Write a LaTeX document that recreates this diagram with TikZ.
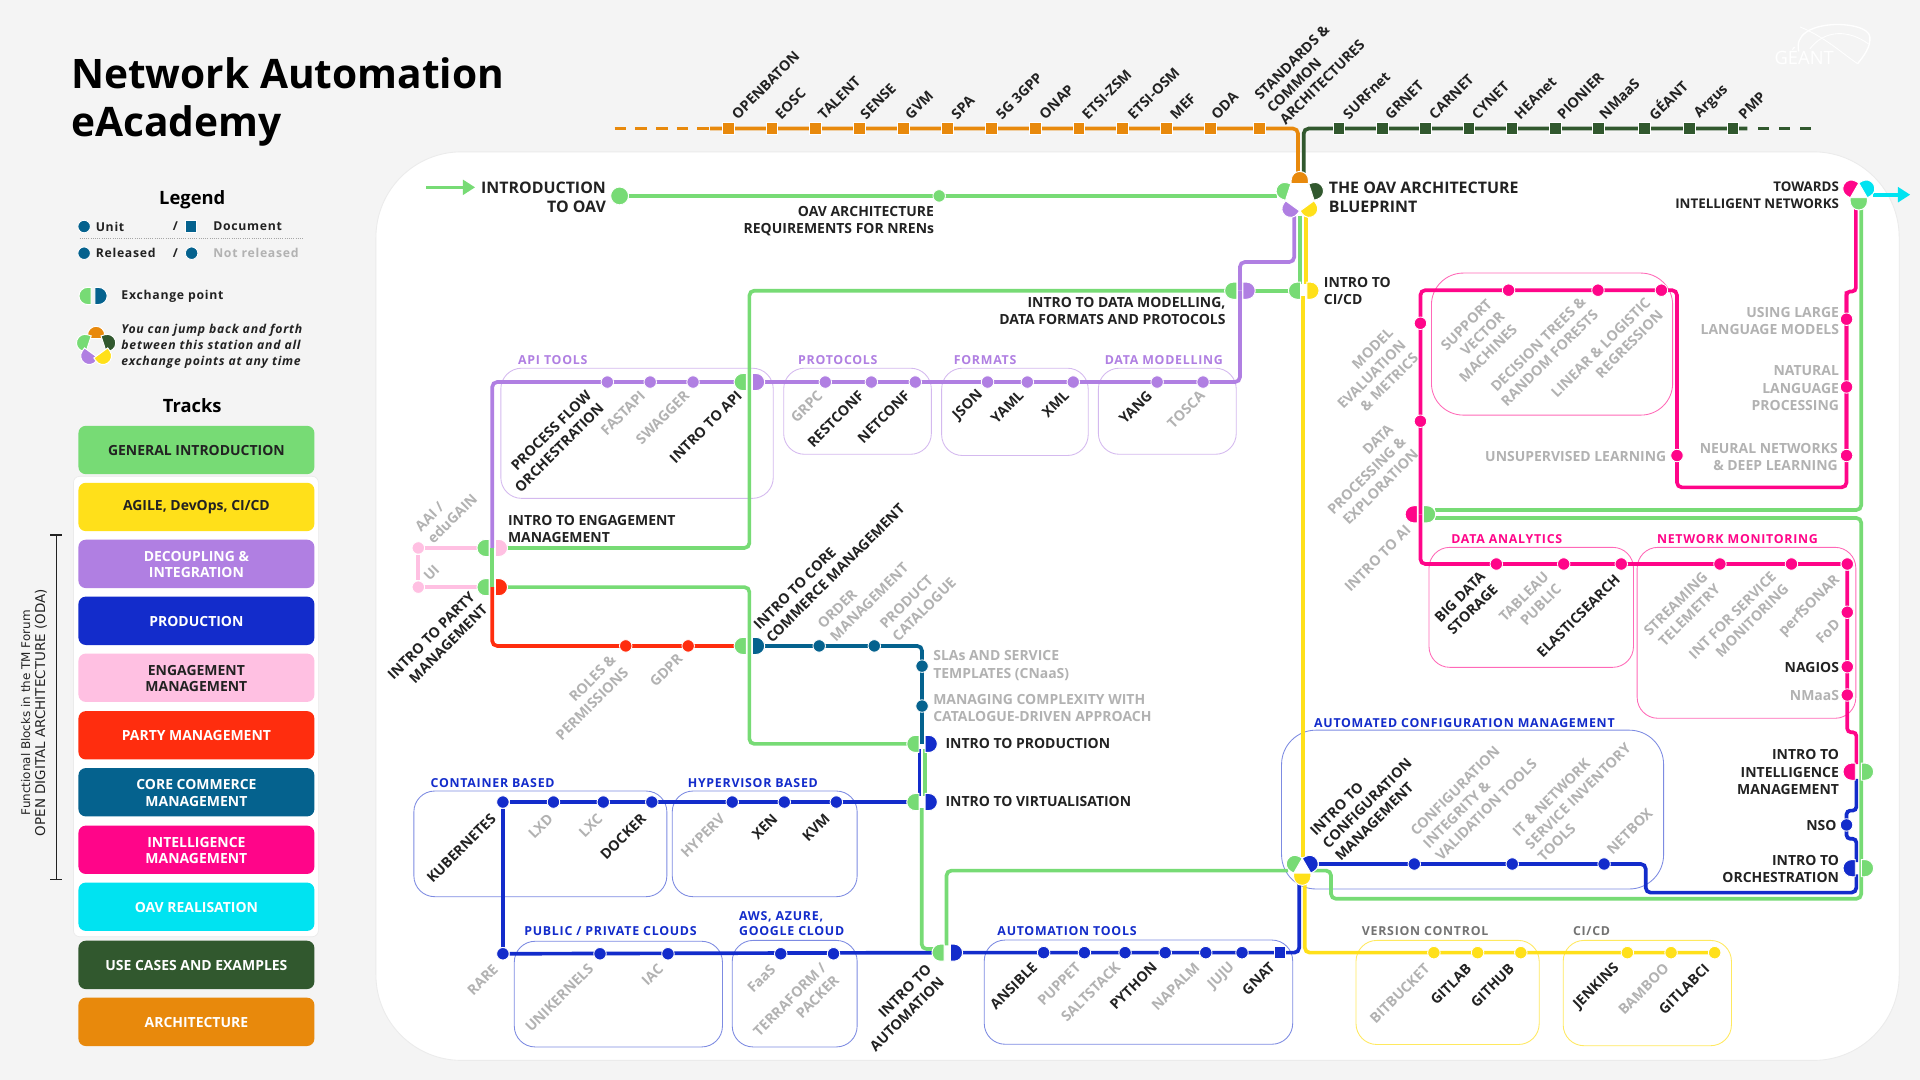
\documentclass[tikz,border=0pt]{standalone}
\usepackage{fontspec}
\usetikzlibrary{arrows.meta}
\setmainfont{Open Sans}
\newcommand{\semi}{\bfseries}
\newfontfamily\spcf{Open Sans}[LetterSpace=6]
\newcommand{\spc}{\spcf\bfseries}
\newfontfamily\dv{DejaVu Sans}
\definecolor{cBg}{HTML}{F4F4F4}
\definecolor{cGreen}{HTML}{77DB75}
\definecolor{cYellow}{HTML}{FFE01A}
\definecolor{cPurple}{HTML}{B07FE2}
\definecolor{cBlue}{HTML}{132CCB}
\definecolor{cPink}{HTML}{FFC0E2}
\definecolor{cRed}{HTML}{FF2D0E}
\definecolor{cTeal}{HTML}{05628E}
\definecolor{cMag}{HTML}{FF0589}
\definecolor{cCyan}{HTML}{00E3F1}
\definecolor{cDark}{HTML}{31582E}
\definecolor{cOrange}{HTML}{E8890C}
\definecolor{cTxt}{HTML}{222222}
\definecolor{cGry}{HTML}{B2B2B2}
\pgfdeclarelayer{back}
\pgfdeclarelayer{lines}
\pgfsetlayers{back,lines,main}
\newcount\labc
\newcommand{\lb}[4]{\global\advance\labc by 1 \node[#1] (lab\the\labc) at (#2,#3) {#4};}
\newcommand{\sta}[4]{\node[st=#2] (#1) at (#3,#4) {};}
\newcommand{\squ}[4]{\node[sq=#2] (#1) at (#3,#4) {};}
\newcommand{\Dsh}[5]{\begin{scope}[shift={(#1,#2)},rotate=#3,xshift=#4]
\path[fill=#5,draw=white,line width=.8] (0,7)--(3,7) .. controls (6.9,7) and (10,3.9) .. (10,0) .. controls (10,-3.9) and (6.9,-7) .. (3,-7) -- (0,-7) -- cycle;
\end{scope}}
\newcommand{\xp}[5]{\coordinate (#1) at (#2,#3); \coordinate (#1L) at (#2-10,#3); \coordinate (#1R) at (#2+10,#3);
\Dsh{#2}{#3}{180}{2.5pt}{#4}\Dsh{#2}{#3}{0}{2.5pt}{#5}}
\newcommand{\track}[5]{\node[trkbox=#3] (#1) at (160.4,#2) {}; \node[trktxt=#4] (#1t) at (160.4,#2+.5) {#5};}
\tikzset{
 st/.style={circle,fill=#1,draw=white,line width=.7,minimum size=10.2,inner sep=0},
 sq/.style={rectangle,fill=#1,draw=white,line width=.7,minimum size=9.6,inner sep=0},
 metro/.style={line width=3,draw=#1,rounded corners=4},
 box/.style={draw=#1,line width=.7,rounded corners=17},
 txt/.style={inner sep=0,font=\fontsize{11.4}{14}\selectfont\semi,text=cTxt},
 dk/.style={txt},
 gy/.style={txt,text=cGry},
 hl/.style={anchor=west,align=left,yshift=-.5pt},
 hr/.style={anchor=east,align=right,yshift=-.5pt},
 rb/.style={rotate=45,anchor=east,align=right,font=\fontsize{11.6}{14.5}\selectfont\semi},
 ra/.style={rotate=45,anchor=west,align=left,font=\fontsize{11.6}{14.5}\selectfont\semi},
 grp/.style={inner sep=0,anchor=west,align=left,yshift=-.3pt,text=#1,font=\fontsize{10.1}{12}\selectfont\spc},
 trkbox/.style={rectangle,rounded corners=6,minimum width=192.7,minimum height=39.5,inner sep=0,fill=#1},
 trktxt/.style={inner sep=0,text=#1,align=center,font=\fontsize{11.4}{13.6}\selectfont\semi},
 leg/.style={inner sep=0,anchor=west,align=left,text=cTxt,font=\fontsize{10}{13}\selectfont\spc},
}
\begin{document}
\begin{tikzpicture}[x=1pt,y=-1pt]
\useasboundingbox (0,0) rectangle (1568,882);
\begin{pgfonlayer}{back}
\fill[cBg] (0,0) rectangle (1568,882);
\draw[fill=white,draw=black!8,line width=.7,rounded corners=70] (307,124) rectangle (1551,866);
\draw[fill=white,draw=black!8,line width=.6,rounded corners=5] (60,389) rectangle (260,765);
% boxes
\draw[box=cPurple!55!white] (409,300.7) rectangle (631.5,407);
\draw[box=cPurple!55!white] (640,300.7) rectangle (760.6,371);
\draw[box=cPurple!55!white] (769,300.7) rectangle (888.7,372);
\draw[box=cPurple!55!white] (897,300.7) rectangle (1009.6,371);
\draw[box=cMag!60!white,rounded corners=26] (1169,223) rectangle (1366,339);
\draw[box=cMag!60!white] (1167,447) rectangle (1334,545);
\draw[box=cMag!60!white] (1337,447) rectangle (1515.6,586.6);
\draw[box=cBlue!55!white,rounded corners=28] (1046.6,596.3) rectangle (1358.6,726);
\draw[box=cBlue!55!white] (338,646) rectangle (544.6,732.3);
\draw[box=cBlue!55!white] (549,646) rectangle (700,732.3);
\draw[box=cBlue!55!white] (420,768.7) rectangle (590,855);
\draw[box=cBlue!55!white] (598,768) rectangle (700,855);
\draw[box=cBlue!55!white] (803.8,767.7) rectangle (1055.7,852.8);
\draw[box=cYellow!70!white] (1107.4,768) rectangle (1257,853);
\draw[box=cYellow!70!white] (1276.6,768) rectangle (1414,854);
\end{pgfonlayer}

% ===== title and legend =====
\node[inner sep=0,anchor=west,align=left,text=black,font=\fontsize{33.2}{39}\selectfont\bfseries] (title) at (58,83) {Network Automation\\eAcademy};
\node[inner sep=0,text=black,font=\fontsize{15}{18}\selectfont\bfseries] (legend) at (157,163.5) {Legend};
\node[inner sep=0,text=black,font=\fontsize{15}{18}\selectfont\bfseries] (tracks) at (157,331.5) {Tracks};
\sta{lgU}{cTeal}{68.7}{185}
\lb{leg}{78}{185}{Unit}
\lb{leg}{141}{185}{/}
\squ{lgD}{cTeal}{156}{185}
\lb{leg}{174}{185}{Document}
\coordinate (dotA) at (65,195); \coordinate (dotB) at (247,195);
\draw[black!35,line width=.8,densely dotted] (dotA) -- (dotB);
\sta{lgR}{cTeal}{68.7}{206.8}
\lb{leg}{78}{206.8}{Released}
\lb{leg}{141}{206.8}{/}
\sta{lgN}{cTeal}{156.5}{206.8}
\lb{leg,text=cGry}{174}{206.8}{Not released}
\Dsh{76}{241.7}{180}{1.5pt}{cGreen}\Dsh{76}{241.7}{0}{1.5pt}{cTeal}
\lb{leg}{99}{241.7}{Exchange point}
\Dsh{78.5}{283}{90}{6.5pt}{cOrange}\Dsh{78.5}{283}{162}{6.5pt}{cGreen}\Dsh{78.5}{283}{18}{6.5pt}{cDark}\Dsh{78.5}{283}{234}{6.5pt}{cPurple}\Dsh{78.5}{283}{306}{6.5pt}{cYellow}
\lb{leg,font=\fontsize{10}{13}\selectfont\spc\itshape}{99}{283}{You can jump back and forth\\between this station and all\\exchange points at any time}

\track{t1}{367.5}{cGreen}{cTxt}{GENERAL INTRODUCTION}
\track{t2}{414}{cYellow}{cTxt}{AGILE, DevOps, CI/CD}
\track{t3}{460.5}{cPurple}{white}{DECOUPLING \&\\INTEGRATION}
\track{t4}{507}{cBlue}{white}{PRODUCTION}
\track{t5}{553.5}{cPink}{cTxt}{ENGAGEMENT\\MANAGEMENT}
\track{t6}{600.5}{cRed}{white}{PARTY MANAGEMENT}
\track{t7}{647}{cTeal}{white}{CORE COMMERCE\\MANAGEMENT}
\track{t8}{694}{cMag}{white}{INTELLIGENCE\\MANAGEMENT}
\track{t9}{740.5}{cCyan}{white}{OAV REALISATION}
\track{t10}{788}{cDark}{white}{USE CASES AND EXAMPLES}
\track{t11}{834.5}{cOrange}{white}{ARCHITECTURE}
\coordinate (brA) at (46,437); \coordinate (brB) at (46,718);
\coordinate (brA1) at (41,437); \coordinate (brA2) at (51,437); \coordinate (brB1) at (41,718); \coordinate (brB2) at (51,718);
\draw[cTxt,line width=1] (brA) -- (brB) (brA1) -- (brA2) (brB1) -- (brB2);
\node[inner sep=0,rotate=90,text=cTxt,font=\fontsize{9.75}{12}\selectfont\dv] (oda1) at (21,582) {Functional Blocks in the TM Forum};
\node[inner sep=0,rotate=90,text=cTxt,font=\fontsize{11}{12}\selectfont\dv] (oda2) at (33.5,582) {OPEN DIGITAL ARCHITECTURE (ODA)};
% GEANT logo
\node[inner sep=0,anchor=west,text=white,font=\fontsize{15}{18}\selectfont] (geant) at (1449,46) {GÉANT};
\coordinate (g1) at (1469,42); \coordinate (g2) at (1526,36); \coordinate (g3) at (1470,22); \coordinate (g4) at (1517,52);
\draw[white,line width=1.1] (g1) .. controls (1462,14) and (1526,16) .. (1527,30) .. controls (1528,38) and (1522,46) .. (g4);
\draw[white,line width=.7] (g3) .. controls (1490,30) and (1505,44) .. (g4);
\draw[white,line width=.7] (1478,40) .. controls (1490,24) and (1510,24) .. (g2);

% ===== orange line stations =====
\foreach \i/\x in {1/594.6,2/630.4,3/666.2,4/702,5/737.9,6/773.7,7/809.5,8/845.3,9/881.1,10/916.9,11/952.7,12/988.5,13/1028.8}{\squ{o\i}{cOrange}{\x}{105}}
\foreach \i/\x in {1/1093.4,2/1128.8,3/1164.2,4/1199.7,5/1234.7,6/1270.1,7/1305.2,8/1343,9/1379.9,10/1415.3}{\squ{k\i}{cDark}{\x}{105}}
\foreach \x/\t in {599.5/OPENBATON,635/EOSC,670/TALENT,704.5/SENSE,741/GVM,778.7/SPA,815.4/5G 3GPP,850.7/ONAP,885.6/ETSI-ZSM,923/ETSI-OSM,957.5/MEF,991/ODA,1098.7/SURFnet,1133/GRNET,1169/CARNET,1203.8/CYNET,1238.6/HEAnet,1273.6/PIONIER,1308/NMaaS,1348/GÉANT,1386/Argus,1421.7/PMP}{\lb{dk,ra}{\x}{95.3}{\t}}
\lb{dk,ra}{1036.7}{89.8}{STANDARDS \&\\COMMON\\ARCHITECTURES}

% ===== intro =====
\node[circle,fill=cGreen,draw=white,line width=.7,minimum size=14.5,inner sep=0] (intro) at (506,160) {};
\sta{req}{cGreen}{767}{160}
\lb{dk,hr,font=\fontsize{13}{15.5}\selectfont\semi}{495}{160.5}{INTRODUCTION\\TO OAV}
\lb{dk,hr}{763}{180}{OAV ARCHITECTURE\\REQUIREMENTS FOR NRENs}
\lb{dk,hl,font=\fontsize{13}{15.5}\selectfont\semi}{1085}{161}{THE OAV ARCHITECTURE\\BLUEPRINT}
\coordinate (hub) at (1061.5,160);
\Dsh{1061.5}{160}{90}{10pt}{cOrange}\Dsh{1061.5}{160}{162}{10pt}{cGreen}\Dsh{1061.5}{160}{18}{10pt}{cDark}\Dsh{1061.5}{160}{234}{10pt}{cPurple}\Dsh{1061.5}{160}{306}{10pt}{cYellow}
\coordinate (hubL) at (1043,160);

% ===== exchange points =====
\xp{dm}{1012.6}{237.4}{cGreen}{cPurple}
\xp{ci}{1064.7}{237.4}{cGreen}{cYellow}
\xp{api}{612}{312}{cGreen}{cPurple}
\xp{eng}{402}{447.5}{cGreen}{cPink}
\xp{prt}{402}{479.5}{cGreen}{cRed}
\xp{cor}{612}{527.5}{cGreen}{cTeal}
\xp{pro}{753}{607.5}{cGreen}{cBlue}
\xp{vir}{753}{655}{cGreen}{cBlue}
\xp{aut}{773.6}{778}{cGreen}{cBlue}
\xp{ai}{1160}{420}{cMag}{cGreen}
\xp{itl}{1517.6}{630.2}{cMag}{cGreen}
\xp{orc}{1517.6}{709}{cBlue}{cGreen}
\coordinate (hb2) at (1063.5,709);
\Dsh{1063.5}{709}{150}{4pt}{cGreen}\Dsh{1063.5}{709}{30}{4pt}{cBlue}\Dsh{1063.5}{709}{270}{4pt}{cYellow}
\coordinate (hb3) at (1518,157.5);
\Dsh{1518}{157.5}{150}{4pt}{cMag}\Dsh{1518}{157.5}{30}{4pt}{cCyan}\Dsh{1518}{157.5}{270}{4pt}{cGreen}

% ===== stations =====
\foreach \i/\x in {1/496,2/531,3/566,4/674,5/711.6,6/747.5,7/806.5,8/839,9/876.5,10/945,11/982.5}{\sta{p\i}{cPurple}{\x}{312}}
\sta{aai}{cPink}{341.6}{447.5}
\sta{ui}{cPink}{341.6}{479.5}
\sta{r1}{cRed}{511}{527.5}
\sta{r2}{cRed}{562}{527.5}
\sta{c1}{cTeal}{669}{527.5}
\sta{c2}{cTeal}{714}{527.5}
\sta{c3}{cTeal}{753}{544}
\sta{c4}{cTeal}{753}{576.6}
\foreach \i/\x in {1/410.7,2/452,3/492.7,4/532.3,5/598,6/640.5,7/683}{\sta{b\i}{cBlue}{\x}{655}}
\foreach \i/\x in {1/410.7,2/490,3/545.5,4/637.6,5/680.7}{\sta{d\i}{cBlue}{\x}{778.9}}
\foreach \i/\x in {1/852.3,2/885.6,3/918.8,4/951.6,5/984.7,6/1014.3}{\sta{a\i}{cBlue}{\x}{778}}
\squ{gnat}{cBlue}{1045.3}{778}
\foreach \i/\x in {1/1155,2/1235,3/1310}{\sta{f\i}{cBlue}{\x}{705.6}}
\sta{nso}{cBlue}{1508}{673.7}
\foreach \i/\x in {1/1171,2/1206.7,3/1242,4/1329,5/1364.7,6/1400.3}{\sta{y\i}{cYellow}{\x}{778}}
\foreach \i/\x in {1/1222,2/1277,3/1324,4/1404.6,5/1463,6/1508.6}{\sta{m\i}{cMag}{\x}{460.6}}
\foreach \i/\y in {1/500,2/544.5,3/567.6}{\sta{n\i}{cMag}{1508.6}{\y}}
\foreach \i/\y in {1/344,2/264}{\sta{q\i}{cMag}{1160}{\y}}
\foreach \i/\x in {1/1232,2/1305,3/1356.8}{\sta{s\i}{cMag}{\x}{237}}
\sta{uns}{cMag}{1369.5}{372}
\foreach \i/\y in {1/372,2/316,3/260.7}{\sta{w\i}{cMag}{1508}{\y}}

% ===== connectors =====
\begin{pgfonlayer}{lines}
\coordinate (oDash) at (502,105); \coordinate (oSol) at (580,105); \coordinate (oTurn) at (1060,105); \coordinate (oEnd) at (1060,142);
\draw[line width=3,draw=cOrange,dash pattern=on 9.4 off 7.5] (oDash) -- (oSol);
\draw[metro=cOrange] (oSol) -- (oTurn) -- (oEnd);
\coordinate (kEnd) at (1064.7,142); \coordinate (kTurn) at (1064.7,105); \coordinate (kSol) at (1427,105); \coordinate (kDash) at (1436,105); \coordinate (kLast) at (1480,105);
\draw[metro=cDark] (kEnd) -- (kTurn) -- (kSol);
\draw[line width=3,draw=cDark,dash pattern=on 9 off 8] (kDash) -- (kLast);
\draw[metro=cGreen] (intro) -- (hubL);
% entry arrow
\coordinate (arA) at (348,153); \coordinate (arB) at (388,153);
\draw[cGreen,line width=3,-{Triangle[length=10,width=12]}] (arA) -- (arB);
% purple
\coordinate (pa) at (1056.9,176); \coordinate (pb) at (1056.9,214); \coordinate (pc) at (1012.6,214); \coordinate (pd) at (1012.6,312);\coordinate (pe) at (402,312);
\draw[metro=cPurple] (pa) -- (pb) -- (pc) -- (dm);
\draw[metro=cPurple] (dm) -- (pd) -- (apiR);
\draw[metro=cPurple] (apiL) -- (pe) -- (eng);
% hub to CI/CD
\coordinate (ga) at (1061.7,176); \coordinate (gb) at (1061.7,232);
\draw[metro=cGreen] (ga) -- (gb);
\coordinate (ya) at (1066.4,176); \coordinate (yb) at (1066.4,232);
\draw[metro=cYellow] (ya) -- (yb);
\draw[metro=cGreen] (ciL) -- (dmR);
\coordinate (g1c) at (612,237.4); \coordinate (g1d) at (612,447.5);
\draw[metro=cGreen] (dmL) -- (g1c) -- (g1d) -- (engR);
\draw[metro=cGreen] (eng) -- (prt);
\coordinate (g2c) at (612,479.5); \coordinate (g2d) at (612,607.5);
\draw[metro=cGreen] (prtR) -- (g2c) -- (g2d) -- (proL);
% pink
\draw[metro=cPink] (aai) -- (engL);
\draw[metro=cPink] (ui) -- (prtL);
\draw[metro=cPink] (aai) -- (ui);
% red
\coordinate (ra1) at (402,527.5);
\draw[metro=cRed] (prt) -- (ra1) -- (corL);
% teal
\coordinate (ta1) at (753,527.5);
\draw[metro=cTeal] (corR) -- (ta1) -- (pro);
% blue production
\coordinate (bb1) at (751,612); \coordinate (bb2) at (751,650);
\draw[metro=cBlue] (bb1) -- (bb2);
\coordinate (gg1) at (755.4,612); \coordinate (gg2) at (755.4,650);
\draw[metro=cGreen] (gg1) -- (gg2);
\draw[metro=cBlue] (virL) -- (b1);
\draw[metro=cBlue] (b1) -- (d1);
\draw[metro=cBlue] (d1) -- (autL);
\coordinate (gg3) at (752.7,660); \coordinate (gg4) at (752.7,775); \coordinate (gg5) at (764,775);
\draw[metro=cGreen] (gg3) -- (gg4) -- (gg5);
\coordinate (gh1) at (773,772); \coordinate (gh2) at (773,711); \coordinate (gh3) at (1052,711);
\draw[metro=cGreen] (gh1) -- (gh2) -- (gh3);
\coordinate (bh1) at (1061,778); \coordinate (bh2) at (1061,720);
\draw[metro=cBlue] (autR) -- (bh1) -- (bh2);
\coordinate (yh1) at (1065.6,720); \coordinate (yh2) at (1065.6,778);
\draw[metro=cYellow] (yh1) -- (yh2) -- (y6);
\coordinate (yt) at (1064,242); \coordinate (yu) at (1064,700);
\draw[metro=cYellow] (yt) -- (yu);
% blue config
\coordinate (fa) at (1077,705.6); \coordinate (fb) at (1344,705.6); \coordinate (fc) at (1344,729); \coordinate (fd) at (1516,729); \coordinate (fe) at (1516,714);
\draw[metro=cBlue] (fa) -- (fb) -- (fc) -- (fd) -- (fe);
\coordinate (na) at (1516,704); \coordinate (nb) at (1516,685); \coordinate (nc) at (1508,685); \coordinate (nd) at (1508,662); \coordinate (ne) at (1516,662); \coordinate (nf) at (1516,636);
\draw[metro=cBlue,rounded corners=3] (na) -- (nb) -- (nc) -- (nd) -- (ne) -- (nf);
% magenta
\coordinate (ma) at (1516,624); \coordinate (mb) at (1516,598); \coordinate (mc) at (1508.6,598);
\draw[metro=cMag,rounded corners=3] (ma) -- (mb) -- (mc) -- (m6);
\coordinate (md) at (1160,460.6);
\draw[metro=cMag] (m6) -- (md) -- (ai);
\coordinate (me) at (1160,237); \coordinate (mf) at (1369.5,237); \coordinate (mg) at (1369.5,398); \coordinate (mh) at (1508,398); \coordinate (mi) at (1508,238); \coordinate (mj) at (1515.6,238); \coordinate (mk) at (1515.6,170);
\draw[metro=cMag] (ai) -- (me) -- (mf) -- (mg) -- (mh) -- (mi);
\draw[metro=cMag,rounded corners=3] (w1) -- (mi) -- (mj) -- (mk);
% green right
\coordinate (ka) at (1172,416.5); \coordinate (kb) at (1520,416.5); \coordinate (kc) at (1520,170);
\draw[metro=cGreen] (ka) -- (kb) -- (kc);
\coordinate (la) at (1172,423); \coordinate (lb) at (1520,423); \coordinate (lc) at (1520,734); \coordinate (ld) at (1087,734); \coordinate (le) at (1087,711); \coordinate (lf) at (1072,711);
\draw[metro=cGreen] (la) -- (lb) -- (lc) -- (ld) -- (le) -- (lf);
% cyan
\coordinate (cyA) at (1530,159); \coordinate (cyB) at (1560,159);
\draw[cCyan,line width=3,-{Triangle[length=10,width=12]}] (cyA) -- (cyB);
\end{pgfonlayer}

% ===== group labels =====
\lb{grp=cPurple}{423}{294}{API TOOLS}
\lb{grp=cPurple}{651.6}{294}{PROTOCOLS}
\lb{grp=cPurple}{778.8}{294}{FORMATS}
\lb{grp=cPurple}{902}{294}{DATA MODELLING}
\lb{grp=cMag}{1185}{440}{DATA ANALYTICS}
\lb{grp=cMag}{1353}{440}{NETWORK MONITORING}
\lb{grp=cBlue}{1073}{590}{AUTOMATED CONFIGURATION MANAGEMENT}
\lb{grp=cBlue}{351.5}{638.8}{CONTAINER BASED}
\lb{grp=cBlue}{561.5}{638.8}{HYPERVISOR BASED}
\lb{grp=cBlue}{428}{760}{PUBLIC / PRIVATE CLOUDS}
\lb{grp=cBlue}{603.4}{754}{AWS, AZURE,\\GOOGLE CLOUD}
\lb{grp=cBlue}{814.4}{760}{AUTOMATION TOOLS}
\lb{grp=black!55}{1112}{760}{VERSION CONTROL}
\lb{grp=black!55}{1284.4}{760}{CI/CD}

% ===== station labels =====
\lb{dk,rb}{486}{326}{PROCESS FLOW\\ORCHESTRATION}
\lb{gy,rb}{525}{321}{FASTAPI}
\lb{gy,rb}{561}{321}{SWAGGER}
\lb{dk,rb}{604}{321}{INTRO TO API}
\lb{gy,rb}{669.7}{321}{GRPC}
\lb{dk,rb}{703.5}{321}{RESTCONF}
\lb{dk,rb}{741}{321}{NETCONF}
\lb{dk,rb}{801}{321}{JSON}
\lb{dk,rb}{834}{321}{YAML}
\lb{dk,rb}{871}{321}{XML}
\lb{dk,rb}{939}{321}{YANG}
\lb{gy,rb}{982}{321}{TOSCA}
\lb{gy,ra}{346}{437}{AAI /\\eduGAIN}
\lb{gy,rotate=45}{352.5}{467.7}{UI}
\lb{dk,hl}{414.7}{431.7}{INTRO TO ENGAGEMENT\\MANAGEMENT}
\lb{dk,rb}{391}{490.6}{INTRO TO PARTY\\MANAGEMENT}
\lb{dk,ra}{622.5}{517.5}{INTRO TO CORE\\COMMERCE MANAGEMENT}
\lb{gy,ra}{674.7}{516.7}{ORDER\\MANAGEMENT}
\lb{gy,ra}{725.5}{516.7}{PRODUCT\\CATALOGUE}
\lb{gy,rb}{506}{542}{ROLES \&\\PERMISSIONS}
\lb{gy,rb}{555.5}{536}{GDPR}
\lb{gy,hl}{762}{543}{SLAs AND SERVICE\\TEMPLATES (CNaaS)}
\lb{gy,hl}{762}{577.5}{MANAGING COMPLEXITY WITH\\CATALOGUE-DRIVEN APPROACH}
\lb{dk,hl}{772}{607}{INTRO TO PRODUCTION}
\lb{dk,hl}{772}{654}{INTRO TO VIRTUALISATION}
\lb{dk,hr}{1001}{253.5}{INTRO TO DATA MODELLING,\\DATA FORMATS AND PROTOCOLS}
\lb{dk,hl}{1081}{237}{INTRO TO\\CI/CD}
\lb{dk,hr,font=\fontsize{10.9}{13.6}\selectfont\semi}{1502}{158.7}{TOWARDS\\INTELLIGENT NETWORKS}
\lb{gy,hr}{1502}{261.5}{USING LARGE\\LANGUAGE MODELS}
\lb{gy,hr}{1502}{316.5}{NATURAL\\LANGUAGE\\PROCESSING}
\lb{gy,hr}{1501}{372.5}{NEURAL NETWORKS\\\& DEEP LEARNING}
\lb{gy,hr}{1361}{372}{UNSUPERVISED LEARNING}
\lb{dk,hr}{1502}{544.5}{NAGIOS}
\lb{gy,hr}{1502}{567.6}{NMaaS}
\lb{dk,hr}{1502}{630}{INTRO TO\\INTELLIGENCE\\MANAGEMENT}
\lb{dk,hr}{1500}{673.7}{NSO}
\lb{dk,hr}{1502}{709.5}{INTRO TO\\ORCHESTRATION}
\lb{gy,rb}{1146}{280}{MODEL\\EVALUATION\\\& METRICS}
\lb{gy,rb}{1146}{358.7}{DATA\\PROCESSING \&\\EXPLORATION}
\lb{gy,rb}{1150}{431}{INTRO TO AI}
\lb{gy,rb}{1226.7}{256.6}{SUPPORT\\VECTOR\\MACHINES}
\lb{gy,rb}{1298}{249.6}{DECISION TREES \&\\RANDOM FORESTS}
\lb{gy,rb}{1351}{250.5}{LINEAR \& LOGISTIC\\REGRESSION}
\lb{dk,rb}{1216}{474}{BIG DATA\\STORAGE}
\lb{gy,rb}{1268}{474}{TABLEAU\\PUBLIC}
\lb{dk,rb}{1321}{471}{ELASTICSEARCH}
\lb{gy,rb}{1397.6}{474}{STREAMING\\TELEMETRY}
\lb{gy,rb}{1453.6}{474}{INT FOR SERVICE\\MONITORING}
\lb{gy,rb}{1500.8}{472}{perfSONAR}
\lb{gy,rb}{1500.8}{507.7}{FoD}
\lb{dk,ra}{1082}{690.6}{INTRO TO\\CONFIGURATION\\MANAGEMENT}
\lb{gy,ra}{1164}{690.6}{CONFIGURATION\\INTEGRITY \&\\VALIDATION TOOLS}
\lb{gy,ra}{1247.4}{691.4}{IT \& NETWORK\\SERVICE INVENTORY\\TOOLS}
\lb{gy,ra}{1314}{695.6}{NETBOX}
\lb{gy,rb}{1165.6}{789}{BITBUCKET}
\lb{dk,rb}{1199.7}{789}{GITLAB}
\lb{dk,rb}{1234.6}{789}{GITHUB}
\lb{dk,rb}{1320.7}{789}{JENKINS}
\lb{gy,rb}{1361}{789}{BAMBOO}
\lb{dk,rb}{1394}{789}{GITLABCI}
\lb{dk,rb}{403}{666.5}{KUBERNETES}
\lb{gy,rb}{449.7}{666.5}{LXD}
\lb{gy,rb}{490}{666.5}{LXC}
\lb{dk,rb}{525.6}{666.5}{DOCKER}
\lb{gy,rb}{590}{666.5}{HYPERV}
\lb{dk,rb}{633}{666.5}{XEN}
\lb{dk,rb}{675.8}{666.5}{KVM}
\lb{gy,rb}{404.8}{789.5}{RARE}
\lb{gy,rb}{482.6}{789}{UNIKERNELS}
\lb{gy,rb}{539.6}{789}{IAC}
\lb{gy,rb}{631.3}{789.5}{FaaS}
\lb{gy,rb}{678}{793.5}{TERRAFORM /\\PACKER}
\lb{dk,rb}{763.8}{794.8}{INTRO TO\\AUTOMATION}
\lb{dk,rb}{845}{788}{ANSIBLE}
\lb{gy,rb}{880.6}{788}{PUPPET}
\lb{gy,rb}{913}{788}{SALTSTACK}
\lb{dk,rb}{943}{788}{PYTHON}
\lb{gy,rb}{977.7}{788}{NAPALM}
\lb{gy,rb}{1006.7}{788}{JUJU}
\lb{dk,rb}{1039}{788}{GNAT}
\end{tikzpicture}
\end{document}
